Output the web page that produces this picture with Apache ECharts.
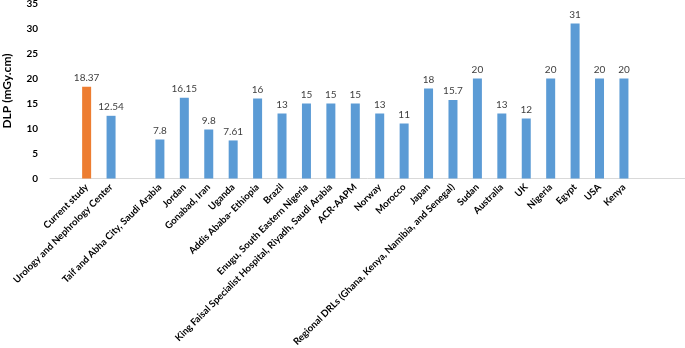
<!DOCTYPE html>
<html><head><meta charset="utf-8">
<script src="https://cdn.jsdelivr.net/npm/echarts@6/dist/echarts.min.js"></script>
<style>html,body{margin:0;padding:0;background:#fff}#c{width:685px;height:348px}</style>
</head><body><div id="c"></div>
<script>
const categories = ['', 'Current study', 'Urology and Nephrology Center', '', 'Taif and Abha City, Saudi Arabia', 'Jordan', 'Gonabad, Iran', 'Uganda', 'Addis Ababa- Ethiopia', 'Brazil', 'Enugu, South Eastern Nigeria', 'King Faisal Specialist Hospital, Riyadh, Saudi Arabia', 'ACR-AAPM', 'Norway', 'Morocco', 'Japan', 'Regional DRLs (Ghana, Kenya, Namibia, and Senegal)', 'Sudan', 'Australia', 'UK', 'Nigeria', 'Egypt', 'USA', 'Kenya', '', ''];
const values = [null, 18.37, 12.54, null, 7.8, 16.15, 9.8, 7.61, 16, 13, 15, 15, 15, 13, 11, 18, 15.7, 20, 13, 12, 20, 31, 20, 20, null, null];
const highlightName = 'Current study';
const yTicks = { min: 0, max: 35, interval: 5 };

const chart = echarts.init(document.getElementById('c'), null, {renderer: 'canvas'});
const font = 'Lato, "Open Sans", sans-serif';
chart.setOption({
  animation: false,
  grid: { left: 50, right: 0, top: 3.5, bottom: 169.5, containLabel: false, outerBoundsMode: 'none' },
  xAxis: {
    type: 'category', data: categories,
    axisLine: { lineStyle: { color: '#d9d9d9', width: 1 } },
    axisTick: { show: false },
    axisLabel: { interval: 0, rotate: 45, margin: 7, color: '#000', fontWeight: 'bold', fontSize: 9.6, fontFamily: font }
  },
  yAxis: {
    type: 'value', min: yTicks.min, max: yTicks.max, interval: yTicks.interval,
    name: 'DLP (mGy.cm)', nameLocation: 'middle', nameGap: 37,
    nameTextStyle: { color: '#000', fontWeight: 'bold', fontSize: 12, fontFamily: font },
    axisLine: { show: false }, axisTick: { show: false }, splitLine: { show: false },
    axisLabel: { color: '#000', fontWeight: 'bold', fontSize: 10, margin: 12, fontFamily: font }
  },
  series: [{
    type: 'bar',
    data: values.map((v, i) => ({
      value: v,
      itemStyle: { color: categories[i] === highlightName ? '#ED7D31' : '#5B9BD5' }
    })),
    barWidth: 9,
    label: { show: true, position: 'top', distance: 4, color: '#404040', fontSize: 10, fontFamily: font }
  }]
});
</script></body></html>
